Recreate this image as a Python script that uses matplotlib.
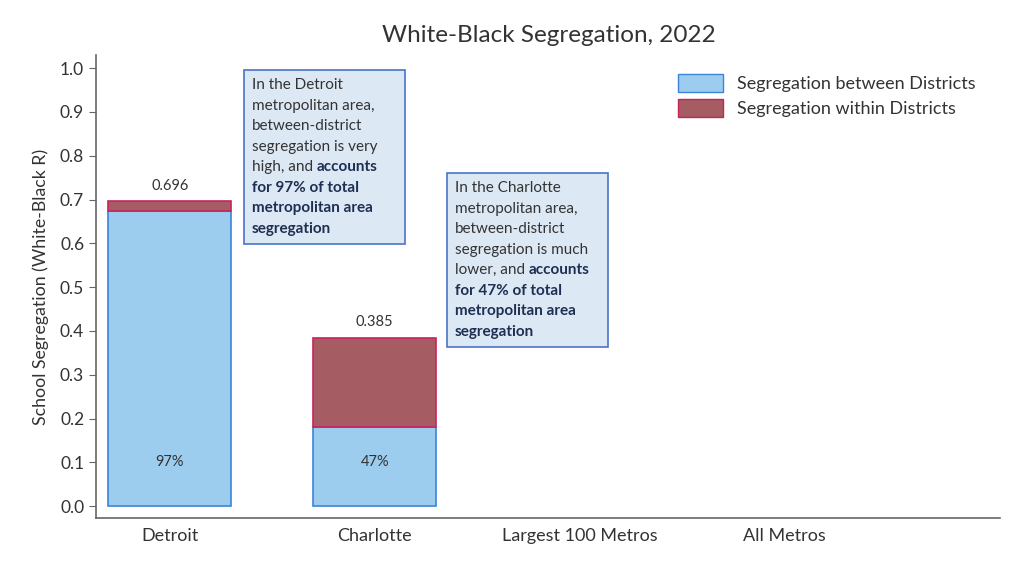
import numpy as np
import matplotlib
matplotlib.use("Agg")
import matplotlib.pyplot as plt
from matplotlib.patches import Rectangle, Patch

plt.rcParams['font.family'] = ['Lato', 'DejaVu Sans']

categorias = ["Detroit", "Charlotte", "Largest 100 Metros", "All Metros"]
total = [0.696, 0.385, np.nan, np.nan]
entre_distritos = [0.675, 0.181, np.nan, np.nan]
dentro_distritos = [t - e for t, e in zip(total, entre_distritos)]
porcentajes = ["97%", "47%", "", ""]
total_labels = ["0.696", "0.385", "", ""]

azul = "#9DCDEE"
azul_borde = "#3C84DA"
rojo = "#A65C63"
rojo_borde = "#C8245C"
caja_fondo = "#DDE8F5"
caja_borde = "#4A74C6"
texto = "#333333"
texto_bold = "#1F2F52"

fig = plt.figure(figsize=(10.24, 5.76), dpi=100)
ax = fig.add_axes([96/1024, 1 - 518/576, 904/1024, 463/576])

x = np.arange(len(categorias))
ax.bar(x, entre_distritos, width=0.6, color=azul, edgecolor=azul_borde, linewidth=1.2,
       label="Segregation between Districts")
ax.bar(x, dentro_distritos, width=0.6, bottom=entre_distritos, color=rojo,
       edgecolor=rojo_borde, linewidth=1.2, label="Segregation within Districts")

for i in range(len(categorias)):
    if total_labels[i]:
        ax.text(x[i], total[i] + 0.02, total_labels[i], ha="center", va="bottom",
                fontsize=10.5, color=texto)
        ax.text(x[i], 0.1, porcentajes[i], ha="center", va="center",
                fontsize=10.5, color=texto)

ax.set_xlim(-0.36, 4.05)
ax.set_ylim(-0.027, 1.03)
ax.set_yticks(np.arange(0, 1.01, 0.1))
ax.set_yticklabels([f"{v:.1f}" for v in np.arange(0, 1.01, 0.1)])
ax.set_xticks(x)
ax.set_xticklabels(categorias)
ax.tick_params(axis="y", labelsize=12.5, colors=texto, length=5, color="#666666")
ax.tick_params(axis="x", labelsize=13, colors=texto, length=0, pad=7)
for s in ["top", "right"]:
    ax.spines[s].set_visible(False)
for s in ["left", "bottom"]:
    ax.spines[s].set_color("#666666")
    ax.spines[s].set_linewidth(1.2)

ax.set_ylabel("School Segregation (White-Black R)", fontsize=12.8, color=texto, labelpad=8)
fig.text(549/1024, 1 - 36/576, "White-Black Segregation, 2022", ha="center", va="center",
         fontsize=17.5, color=texto)

handles = [Patch(facecolor=azul, edgecolor=azul_borde, label="Segregation between Districts"),
           Patch(facecolor=rojo, edgecolor=rojo_borde, label="Segregation within Districts")]
ax.legend(handles=handles, loc="upper left", bbox_to_anchor=(0.646, 0.9),
          bbox_transform=fig.transFigure, frameon=False, fontsize=13,
          handlelength=2.5, handleheight=1.2, handletextpad=0.8, labelspacing=0.35,
          labelcolor=texto)

renderer = fig.canvas.get_renderer()


def caja_nota(x0, y0, lineas):
    px, py = ax.transData.transform((x0, y0))
    fig.add_artist(Rectangle((px, py - 174), 161, 174, transform=None,
                             facecolor=caja_fondo, edgecolor=caja_borde, linewidth=1.2))
    for i, partes in enumerate(lineas):
        cx = px + 8
        cy = py - 15 - i * 20.5
        for s, negrita in partes:
            t = fig.text(cx, cy, s, transform=None, ha="left", va="center", fontsize=11,
                         fontweight="bold" if negrita else "normal",
                         color=texto_bold if negrita else texto)
            cx += t.get_window_extent(renderer).width


caja_nota(0.36, 0.995, [
    [("In the Detroit", False)],
    [("metropolitan area,", False)],
    [("between-district", False)],
    [("segregation is very", False)],
    [("high, and ", False), ("accounts", True)],
    [("for 97% of total", True)],
    [("metropolitan area", True)],
    [("segregation", True)],
])
caja_nota(1.35, 0.76, [
    [("In the Charlotte", False)],
    [("metropolitan area,", False)],
    [("between-district", False)],
    [("segregation is much", False)],
    [("lower, and ", False), ("accounts", True)],
    [("for 47% of total", True)],
    [("metropolitan area", True)],
    [("segregation", True)],
])

fig.savefig("out.png", dpi=100)
